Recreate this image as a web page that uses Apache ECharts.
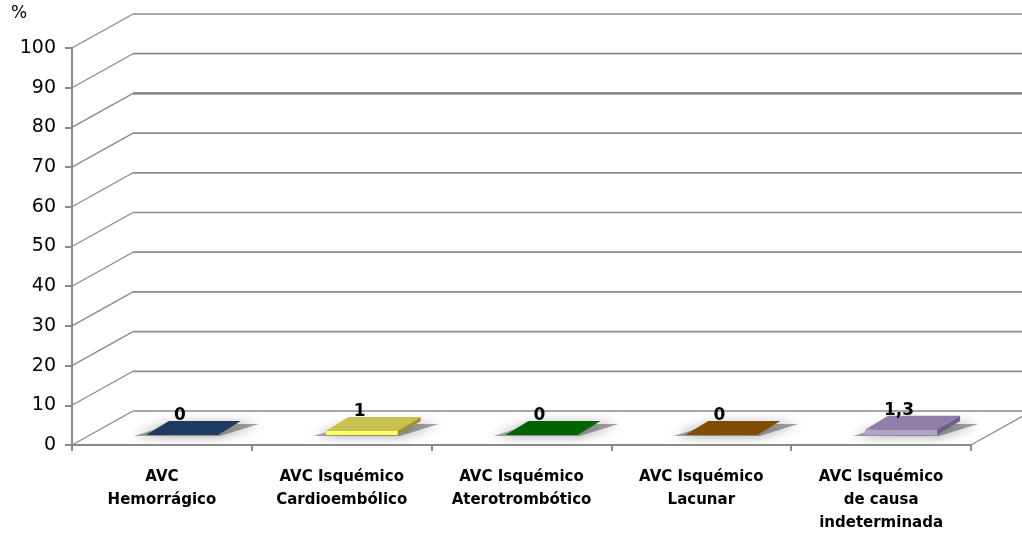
<!DOCTYPE html>
<html>
<head>
<meta charset="utf-8">
<script src="https://cdn.jsdelivr.net/npm/echarts@6/dist/echarts.min.js"></script>
<style>html,body{margin:0;padding:0;background:#fff}#c{width:1022px;height:535px}</style>
</head>
<body>
<div id="c"></div>
<script>
const categories = ['AVC\nHemorrágico', 'AVC Isquémico\nCardioembólico', 'AVC Isquémico\nAterotrombótico', 'AVC Isquémico\nLacunar', 'AVC Isquémico\nde causa\nindeterminada'];
const values = [0, 1, 0, 0, 1.3];
const yTicks = [0, 10, 20, 30, 40, 50, 60, 70, 80, 90, 100];
const barColors = [
  ['#1f3a60', '#162a48', '#122440'],
  ['#c8c050', '#ffff60', '#9a9430'],
  ['#006400', '#00800a', '#004d00'],
  ['#7f4c00', '#995c00', '#5e3800'],
  ['#8e7ea8', '#b4a4cc', '#6e5e88']
];

const DX = 61, DY = 34;
const chart = echarts.init(document.getElementById('c'));

function wallItem(params, api) {
  const cs = params.coordSys;
  const v = api.value(0);
  const y = api.coord([0, v])[1];
  const x0 = cs.x;
  const children = [
    { type: 'line', shape: { x1: x0, y1: y, x2: x0 + DX, y2: y - DY }, style: { stroke: '#8a8a8a', lineWidth: 1.3 } },
    { type: 'line', shape: { x1: x0 + DX, y1: y - DY, x2: 1030, y2: y - DY }, style: { stroke: '#8a8a8a', lineWidth: v === 80 ? 2.6 : 1.7 } }
  ];
  if (v === 0) {
    const xr = cs.x + cs.width, yb = cs.y + cs.height;
    children.push({
      type: 'line',
      shape: { x1: xr, y1: yb, x2: xr + DX, y2: yb - DY },
      style: { stroke: '#8a8a8a', lineWidth: 1.3 }
    });
  }
  return { type: 'group', children: children };
}

function barItem(params, api) {
  const i = api.value(0);
  const v = api.value(1);
  const c = barColors[i];
  const base = api.coord([i, 0]);
  const top = api.coord([i, v]);
  const h = base[1] - top[1];
  const cx = base[0], y0 = base[1];
  const fy = y0 - 10, by = y0 - 24;
  const fl = cx - 16, fr = cx + 56, bl = cx + 7, br = cx + 79;
  const label = String(v).replace('.', ',');
  return {
    type: 'group',
    children: [
      { type: 'polygon', shape: { points: [[fl - 12, fy + 1], [fr + 2, fy + 1], [br + 18, by + 3], [bl + 4, by + 3]] },
        style: { fill: 'rgba(90,90,90,0.55)', shadowBlur: 12, shadowColor: 'rgba(0,0,0,0.7)' } },
      { type: 'polygon', shape: { points: [[fr, fy], [br, by], [br, by - h], [fr, fy - h]] }, style: { fill: c[2] } },
      { type: 'polygon', shape: { points: [[fl, fy], [fr, fy], [fr, fy - h], [fl, fy - h]] }, style: { fill: c[1] } },
      { type: 'polygon', shape: { points: [[fl, fy - h], [fr, fy - h], [br, by - h], [bl, by - h]] }, style: { fill: c[0] } },
      { type: 'text', style: { text: label, x: cx + 18, y: by - h - 5, align: 'center', verticalAlign: 'middle',
          font: 'bold 17px "DejaVu Sans"', fill: '#000' } }
    ]
  };
}

chart.setOption({
  animation: false,
  backgroundColor: '#fff',
  grid: { left: 72, right: 51, top: 48, bottom: 88 },
  xAxis: {
    type: 'category', data: categories,
    axisLine: { lineStyle: { color: '#8a8a8a', width: 2 } },
    axisTick: { show: true, length: 6, lineStyle: { color: '#8a8a8a', width: 2 } },
    axisLabel: { interval: 0, color: '#000', fontFamily: 'DejaVu Sans', fontWeight: 'bold', fontSize: 15, lineHeight: 23, margin: 21 },
    z: 5
  },
  yAxis: {
    type: 'value', min: 0, max: 100, interval: 10,
    axisLine: { show: true, lineStyle: { color: '#8a8a8a', width: 2 } },
    axisTick: { show: true, length: 7, lineStyle: { color: '#8a8a8a', width: 2 } },
    axisLabel: { color: '#000', fontFamily: 'DejaVu Sans', fontSize: 19, margin: 16 },
    splitLine: { show: false },
    z: 5
  },
  graphic: [{ type: 'text', left: 11, top: 5, style: { text: '%', font: '17px "DejaVu Sans"', fill: '#000' } }],
  series: [
    { type: 'custom', renderItem: wallItem, data: yTicks.map(v => [v]), z: 1, silent: true, clip: false },
    { type: 'custom', renderItem: barItem, data: values.map((v, i) => [i, v]), z: 3, silent: true, clip: false }
  ]
});
</script>
</body>
</html>
